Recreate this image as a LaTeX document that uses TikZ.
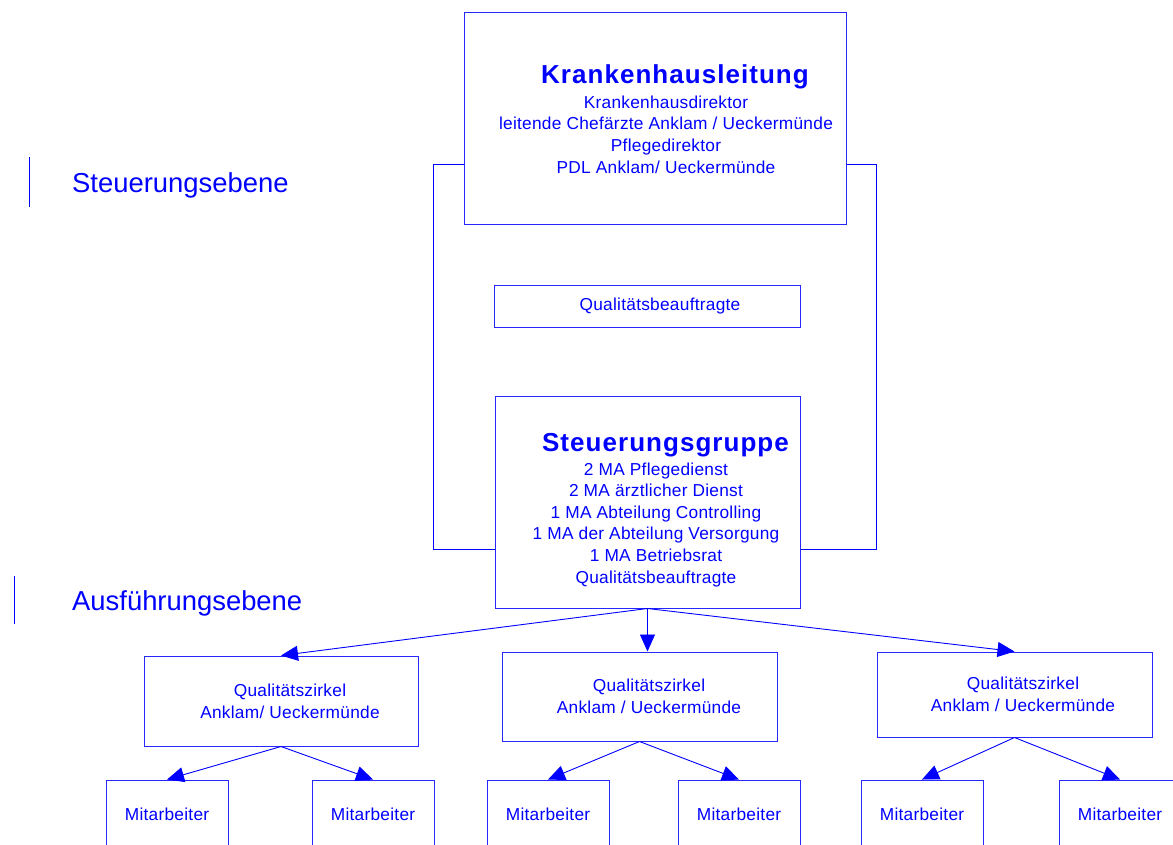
\documentclass[tikz,border=0pt]{standalone}
\usepackage{fontspec}
\setmainfont{Liberation Sans}
\newfontfamily\titelfont[LetterSpace=4]{Liberation Sans}
\newfontfamily\zeilenfont[LetterSpace=1.5]{Liberation Sans}
\usetikzlibrary{arrows.meta}

\tikzset{kasten/.style={draw=blue!85!white,line width=1pt,inner sep=0pt},
schrift/.style={text=blue,inner sep=0pt,align=center,font=\zeilenfont\fontsize{17.3}{21.6}\selectfont},
titel/.style={text=blue,inner sep=0pt,font=\titelfont\bfseries\fontsize{26}{30}\selectfont},
ebene/.style={text=blue,inner sep=0pt,font=\fontsize{27.4}{32}\selectfont},
pfeil/.style={draw=blue,line width=0.9pt,-{Triangle[length=17pt,width=15pt]}}}

\begin{document}
\begin{tikzpicture}[x=1pt,y=-1pt]
\path[use as bounding box,fill=white] (0,0) rectangle (1173,844);
\clip (0,0) rectangle (1173,844);

% Ebenen
\draw[blue,line width=0.9pt] (29,157) -- (29,207);
\node[ebene,anchor=base west] (steuer) at (72,192) {Steuerungsebene};
\draw[blue,line width=0.9pt] (14,576) -- (14,624);
\node[ebene,anchor=base west] (ausf) at (72,610) {Ausführungsebene};

% Steuerung
\node[kasten,minimum width=382,minimum height=212] (kl) at (655,118) {};
\node[titel,anchor=base] (kltitel) at (675,83) {Krankenhausleitung};
\node[schrift,anchor=base] (kltext) at (666,173) {Krankenhausdirektor\\leitende Chefärzte Anklam / Ueckermünde\\Pflegedirektor\\PDL Anklam/ Ueckermünde};

\node[kasten,minimum width=306,minimum height=42] (qb) at (647,306) {};
\node[schrift] (qbtext) at (660,306) {Qualitätsbeauftragte};

\node[kasten,minimum width=305,minimum height=212] (sg) at (647.5,502) {};
\node[titel,anchor=base] (sgtitel) at (665.5,451) {Steuerungsgruppe};
\node[schrift,anchor=base] (sgtext) at (656,583) {2 MA Pflegedienst\\2 MA ärztlicher Dienst\\1 MA Abteilung Controlling\\1 MA der Abteilung Versorgung\\1 MA Betriebsrat\\Qualitätsbeauftragte};

\draw[blue,line width=0.9pt] ([yshift=-46pt]kl.west) -- ++(-30,0) |- ([yshift=-47pt]sg.west);
\draw[blue,line width=0.9pt] ([yshift=-46pt]kl.east) -- ++(30,0) |- ([yshift=-47pt]sg.east);

% Ausfuehrung
\node[kasten,minimum width=274,minimum height=90] (qz1) at (281,701) {};
\node[schrift,anchor=base] (qz1text) at (290,718) {Qualitätszirkel\\Anklam/ Ueckermünde};
\node[kasten,minimum width=275,minimum height=89] (qz2) at (639.5,696.5) {};
\node[schrift,anchor=base] (qz2text) at (649,713) {Qualitätszirkel\\Anklam / Ueckermünde};
\node[kasten,minimum width=275,minimum height=85] (qz3) at (1014.5,694.5) {};
\node[schrift,anchor=base] (qz3text) at (1023,711) {Qualitätszirkel\\Anklam / Ueckermünde};

\draw[pfeil] (sg.south) -- (qz1.north);
\draw[pfeil] (sg.south) -- (sg.south |- qz2.north);
\draw[pfeil] (sg.south) -- (qz3.north);

\foreach \name/\x in {ma1/167,ma2/373,ma3/548,ma4/739,ma5/922,ma6/1120}
	\node[kasten,schrift,minimum width=122,minimum height=68] (\name) at (\x,814) {Mitarbeiter};

\foreach \z/\a/\b in {qz1/ma1/ma2,qz2/ma3/ma4,qz3/ma5/ma6}{
	\draw[pfeil] (\z.south) -- (\a.north);
	\draw[pfeil] (\z.south) -- (\b.north);
}
\end{tikzpicture}
\end{document}
